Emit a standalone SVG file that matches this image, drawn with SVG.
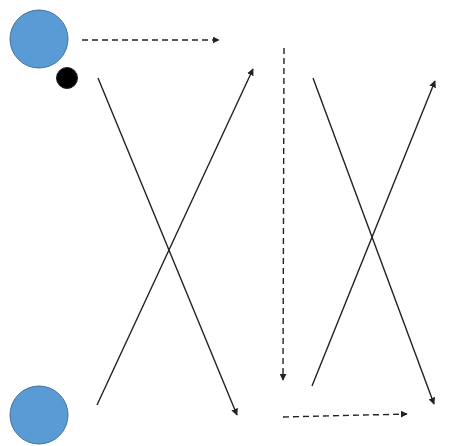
<svg xmlns="http://www.w3.org/2000/svg" width="469" height="446" viewBox="0 0 469 446">
<defs>
<style>
.blue{fill:#5B9BD5;stroke:#41719C;stroke-width:1}
.dot{fill:#000;stroke:#222;stroke-width:1}
.ln{stroke:#222;stroke-width:1.4;fill:none}
.dash{stroke-dasharray:6,4}
</style>
<marker id="ah" viewBox="0 0 10 10" refX="9" refY="5" markerWidth="7" markerHeight="7" markerUnits="userSpaceOnUse" orient="auto"><path d="M0,0 L10,5 L0,10 Z" fill="#222"/></marker>
</defs>
<rect width="469" height="446" fill="#fff"/>
<g id="circle-top"><circle class="blue" cx="39" cy="39" r="29"/></g>
<g id="dot"><circle class="dot" cx="67" cy="78" r="10.5"/></g>
<g id="circle-bottom"><circle class="blue" cx="39" cy="415" r="29"/></g>
<g id="connectors">
<line class="ln dash" x1="82" y1="40" x2="219" y2="40" marker-end="url(#ah)"/>
<line class="ln dash" x1="284" y1="48" x2="283" y2="380" marker-end="url(#ah)"/>
<line class="ln dash" x1="283" y1="417" x2="407" y2="414" marker-end="url(#ah)"/>
<line class="ln" x1="98" y1="78" x2="237" y2="415" marker-end="url(#ah)"/>
<line class="ln" x1="97" y1="405" x2="253" y2="69" marker-end="url(#ah)"/>
<line class="ln" x1="313" y1="78" x2="434" y2="404" marker-end="url(#ah)"/>
<line class="ln" x1="312" y1="386" x2="435" y2="81" marker-end="url(#ah)"/>
</g>
</svg>
